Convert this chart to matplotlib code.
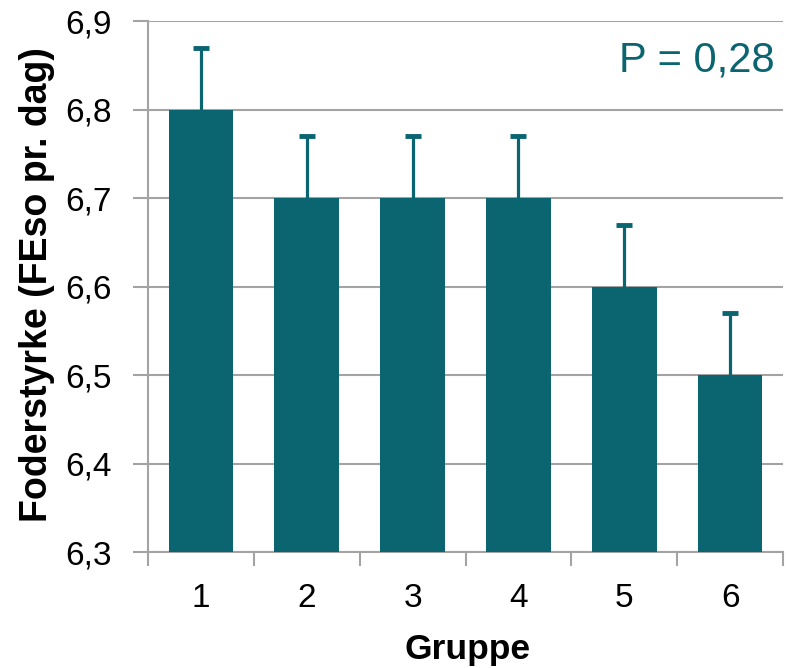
import matplotlib
matplotlib.use("Agg")
import matplotlib.pyplot as plt
import numpy as np

groups = ["1", "2", "3", "4", "5", "6"]
values = [6.8, 6.7, 6.7, 6.7, 6.6, 6.5]
errors = [0.07, 0.07, 0.07, 0.07, 0.07, 0.07]
y_ticks = [6.3, 6.4, 6.5, 6.6, 6.7, 6.8, 6.9]
y_tick_labels = ["6,3", "6,4", "6,5", "6,6", "6,7", "6,8", "6,9"]
p_text = "P = 0,28"

teal = "#0a6570"
grey = "#a3a3a3"

plt.rcParams["font.family"] = ["Liberation Sans", "DejaVu Sans"]

fig = plt.figure(figsize=(7.88, 6.68), dpi=100)
ax = fig.add_axes([148 / 788, 1 - 552 / 668, 635 / 788, 531 / 668])

x = np.arange(len(groups))
base = 6.3
ax.bar(x, [v - base for v in values], bottom=base, width=0.61, color=teal, zorder=3)

# upper-only error bars with a cap on top
tops = [v + e for v, e in zip(values, errors)]
ax.vlines(x, values, tops, color=teal, linewidth=2.3, zorder=2)
ax.plot(x, tops, linestyle="none", marker="_", markersize=12, markeredgewidth=3.5,
        color=teal, zorder=2)

ax.set_ylim(6.3, 6.9)
ax.set_xlim(-0.5, len(groups) - 0.5)
ax.set_yticks(y_ticks)
ax.set_yticklabels(y_tick_labels, fontsize=24)
ax.set_xticks(x)
ax.set_xticklabels(groups, fontsize=24)
ax.set_xticks(np.arange(len(groups) + 1) - 0.5, minor=True)

ax.yaxis.grid(True, color=grey, linewidth=1.5, zorder=0)
ax.set_axisbelow(True)
ax.tick_params(axis="y", length=11, width=1.5, color=grey, pad=15)
ax.tick_params(axis="x", which="major", length=0, pad=22)
ax.tick_params(axis="x", which="minor", length=10, width=1.5, color=grey)

for side in ("top", "right"):
    ax.spines[side].set_visible(False)
for side in ("left", "bottom"):
    ax.spines[side].set_color(grey)
    ax.spines[side].set_linewidth(1.5)

ax.set_ylabel("Foderstyrke (FEso pr. dag)", fontsize=27, fontweight="bold")
ax.yaxis.set_label_coords(-0.1465, 0.503)
ax.set_xlabel("Gruppe", fontsize=25.5, fontweight="bold")
ax.xaxis.set_label_coords(0.503, -0.152)

ax.text(0.987, 0.926, p_text, transform=ax.transAxes, ha="right", va="center",
        fontsize=30, color=teal)

fig.savefig("out.png", dpi=100)
